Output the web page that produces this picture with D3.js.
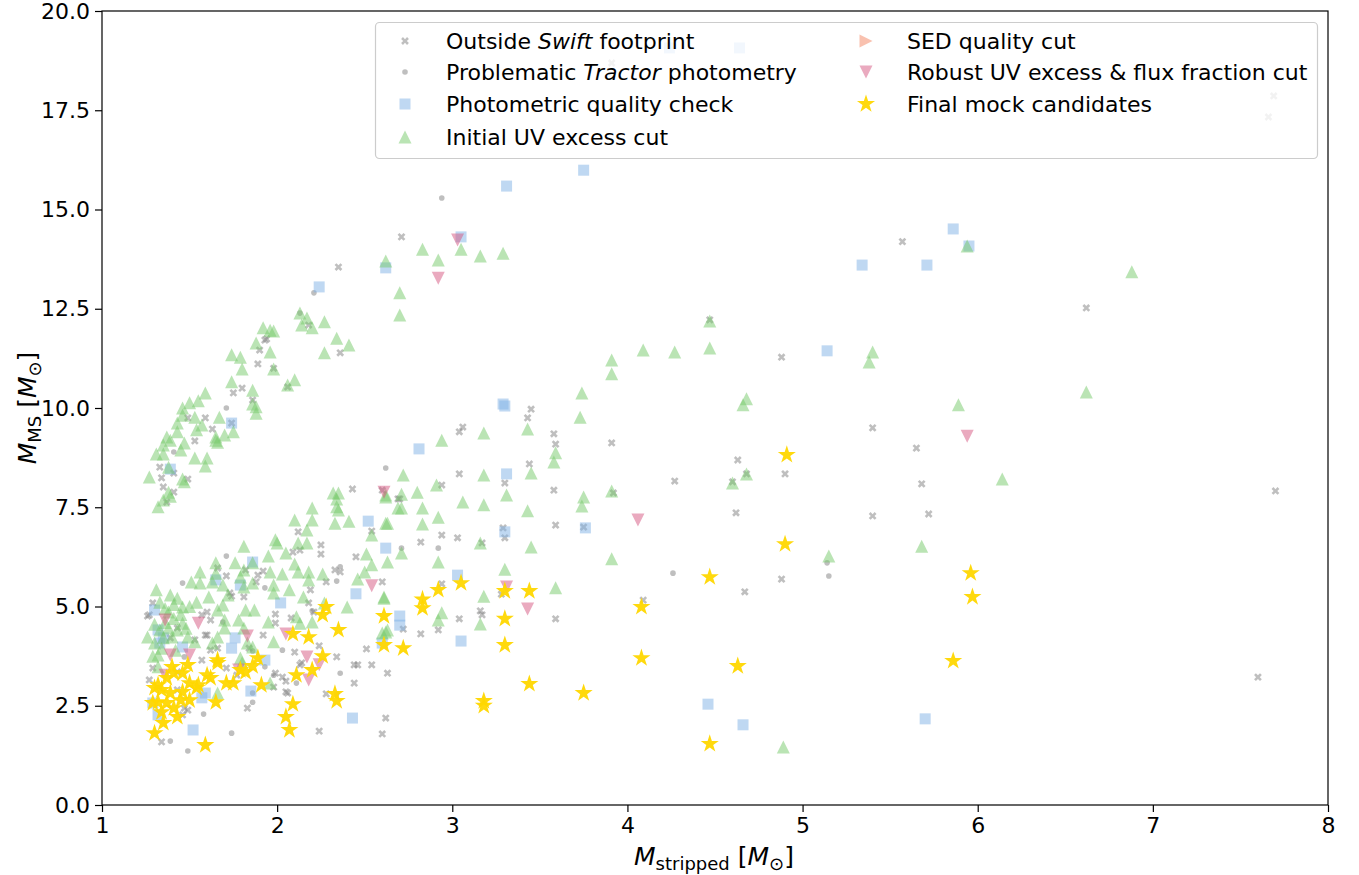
<!DOCTYPE html>
<html>
<head>
<meta charset="utf-8">
<script src="https://cdn.jsdelivr.net/npm/d3@7"></script>
<style>
  body { margin: 0; background: #fff; }
  text { font-family: "DejaVu Sans", sans-serif; }
</style>
</head>
<body>
<svg id="chart" width="1359" height="875"></svg>
<script>
// Stripped-star + main-sequence mock binaries, by selection stage: [M_stripped, M_MS] in solar masses
const outsideSwift = [
  [3.91,18.69],[7.69,17.86],[7.66,17.33],[5.57,14.19],[6.62,12.52],[5.40,9.50],[5.65,8.99],[5.68,8.09],[5.72,7.33],[5.40,7.28],[7.70,7.91],[7.60,3.22],
  [2.71,14.31],[2.35,13.55],[1.93,11.71],[2.36,11.39],[1.98,11.00],[2.06,10.53],[2.18,12.09],[3.45,9.97],[3.43,9.75],
  [1.94,11.74],[1.90,11.46],[1.89,11.11],[1.80,10.50],[1.75,10.38],[1.86,10.20],[1.59,9.75],[1.49,9.75],[1.63,9.47],[1.53,9.17],[1.74,9.62],
  [1.33,8.51],[1.41,8.36],[1.34,8.24],[1.35,8.01],[1.41,7.88],[1.37,7.63],[1.49,8.21],
  [2.43,7.96],[2.60,7.93],[2.69,7.71],[2.12,6.88],[2.54,6.90],
  [4.47,12.22],[4.88,11.28],[3.91,9.12],[4.63,8.69],[4.90,8.34],[4.27,8.16],[4.62,7.36],[4.88,5.69],[4.67,5.37],[4.09,5.16],[3.75,7.00],[3.92,7.86],[4.60,8.14],[4.68,8.34],
  [3.06,9.52],[3.04,9.40],[3.58,9.35],[3.59,9.09],[3.44,8.59],[3.04,8.34],[2.94,8.06],[3.30,8.11],[3.58,7.93],[2.70,7.71],[3.59,7.05],[2.94,6.80],[3.03,6.73],[3.29,6.98],[3.30,6.73],[2.82,6.62],[3.17,6.60],[2.60,5.62],[2.94,5.57],[3.28,5.31],[3.16,4.89],[3.17,4.79],[3.04,4.69],[3.59,4.69],[2.92,4.41],[2.72,4.43],[2.82,4.31],[2.63,3.32],
  [2.24,4.01],[2.10,3.85],[2.51,3.93],[2.34,3.73],[2.44,3.53],[2.54,3.53],[2.44,3.07],[2.05,3.12],[2.06,2.82],[2.28,2.80],[2.62,2.19],[2.60,1.79],[2.24,1.86],[2.14,3.58],
  [2.25,6.55],[2.25,6.32],[2.09,6.37],[2.13,6.42],[2.45,6.25],[2.33,5.92],[2.36,5.87],[2.28,5.62],[2.19,5.42],[1.92,5.89],[1.89,5.79],[1.88,5.62],[1.81,5.24],[1.73,5.34],[2.18,5.09],[2.21,4.86],[1.99,4.81],[2.08,4.71],[1.99,4.58],[1.92,4.28],[1.59,4.28],[1.62,3.90],[1.43,4.46],[1.26,4.76],[1.29,5.09],[1.60,4.86],[2.46,3.53],[2.13,3.53],[2.03,3.22],[1.99,3.32],[1.98,2.97],[2.05,2.85],[1.83,2.44],[1.34,1.59],[1.47,2.44],[1.43,2.90],[1.43,3.35],[1.29,3.45],[1.27,3.15],
  [1.71,5.77],[1.66,5.97],[1.82,5.92],[1.74,5.26],[1.57,4.79],[1.62,4.66],[1.60,4.28],[1.53,4.16],[1.66,3.95],[1.57,3.65],[1.39,4.21],[1.27,4.79],[1.84,3.95],[1.71,3.45],[1.77,3.27],[1.46,2.27],[1.49,2.39]
];

const tractorProblem = [
  [2.94,15.29],[2.21,12.90],[2.13,12.39],[1.71,10.00],[1.41,8.89],[2.62,8.49],[2.71,6.47],[2.92,6.47],[4.26,5.84],[5.14,6.10],[5.15,5.77],
  [1.71,6.27],[1.93,5.47],[2.34,5.64],[2.36,6.00],[2.03,3.90],[1.86,3.88],[1.93,3.48],[1.98,3.27],[1.86,2.82],[1.58,2.29],[1.74,1.81],[1.49,1.36],[1.39,1.61],[1.46,5.59],[2.34,2.80],[2.36,3.32],[2.11,3.07],[1.69,4.61],[1.47,3.73],[2.20,4.89],[1.86,2.59]
];

const photometricCheck = [
  [4.24,19.07],[4.64,19.07],[3.75,15.99],[3.31,15.59],[2.24,13.05],[2.62,13.53],[3.05,14.31],[5.86,14.51],[5.34,13.60],[5.71,13.60],[5.95,14.08],[5.14,11.44],[3.29,10.10],[3.30,10.05],[1.74,9.62],[1.39,8.46],[2.81,8.97],[2.52,7.15],[3.31,8.34],[3.76,6.98],[2.62,6.47],[3.30,6.88],[3.03,5.79],[4.46,2.54],[4.66,2.02],[5.70,2.17],[2.43,2.19],[3.05,4.13],[2.02,5.09],[2.45,5.32],[1.86,6.12],[1.79,5.54],[1.76,4.21],[1.74,3.95],[1.93,3.65],[1.85,2.87],[1.52,1.89],[2.60,4.08],[1.29,2.57],[1.32,2.27],[1.59,2.82],[1.57,2.70],[1.35,4.21],[1.33,4.08],[1.30,4.91],[1.32,4.41],[1.46,3.98],[1.65,5.67],[2.70,4.76],[2.70,4.53]
];

const initialUVCut = [
  [2.13,12.39],[2.17,12.27],[2.14,12.09],[2.20,12.02],[2.27,12.17],[1.92,12.02],[1.96,11.96],[1.98,11.94],[2.34,11.76],[2.41,11.59],[2.27,11.39],[1.88,11.64],[1.96,11.41],[1.74,11.34],[1.79,11.28],[1.80,10.98],[1.98,10.98],[2.10,10.71],[2.06,10.58],[1.74,10.66],[1.86,10.45],[1.59,10.38],[1.55,10.18],[1.50,10.13],[1.86,10.10],[1.88,10.03],[1.88,9.87],[1.46,10.00],[1.46,9.82],[1.53,9.77],[1.67,9.77],[1.43,9.62],[1.75,9.40],[1.70,9.32],[1.65,9.27],[1.66,9.14],[1.54,9.45],[1.57,9.57],[1.37,9.27],[1.43,9.40],[1.39,9.19],[1.47,9.12],[1.45,8.94],[1.35,9.07],[1.31,8.84],[1.35,8.84],[1.53,8.74],[1.60,8.74],[1.59,8.54],[1.46,8.21],[1.47,8.14],[1.27,8.26],[1.38,7.88],[1.39,7.78],[1.32,7.51],[1.35,7.68],[1.38,8.51],[1.65,9.19],
  [2.62,13.70],[2.83,14.00],[2.92,13.73],[3.05,14.00],[3.16,13.83],[3.29,13.90],[2.70,12.90],[2.70,12.34],
  [3.91,11.21],[3.91,10.86],[4.09,11.46],[4.27,11.41],[3.74,10.38],[3.73,9.77],[4.47,12.19],[4.47,11.51],[5.40,11.41],[5.38,11.16],[4.68,10.23],[4.66,10.08],[4.68,8.34],[4.60,8.11],[3.91,7.91],[3.75,7.76],[3.74,7.53],[3.91,6.20],[5.15,6.27],[5.68,6.52],[4.89,1.46],
  [5.94,14.08],[6.88,13.43],[6.62,10.40],[5.89,10.08],[6.14,8.21],
  [2.32,7.86],[2.35,7.86],[2.34,7.71],[2.20,7.48],[2.34,7.51],[2.35,7.43],[2.10,7.18],[2.20,7.18],[2.33,7.10],[2.41,7.15],[2.62,7.10],[2.69,7.48],[2.54,6.80],[2.62,7.81],[2.17,6.93],[1.99,6.68],
  [3.43,9.47],[3.18,9.37],[2.94,9.19],[3.59,8.87],[3.58,8.64],[3.45,8.36],[2.72,8.31],[3.18,8.31],[2.91,8.06],[3.31,7.81],[2.80,7.88],[2.71,7.83],[2.62,7.76],[3.06,7.63],[3.18,7.56],[2.71,7.48],[2.83,7.48],[2.92,7.25],[2.63,7.10],[2.83,7.08],[3.43,7.41],[3.45,6.50],[3.16,6.60],[2.71,6.35],[2.63,6.12],[2.92,6.12],[3.30,5.94],[3.59,5.47],[2.61,5.24],[3.18,5.26],[2.94,4.84],[2.92,4.66],[3.16,4.56],[2.62,4.36],
  [1.81,6.52],[2.00,6.60],[2.05,6.35],[2.12,6.60],[2.17,6.60],[1.95,6.27],[1.86,6.10],[1.76,6.10],[1.65,6.10],[1.56,5.87],[2.10,6.07],[2.12,5.87],[2.03,5.82],[2.18,5.87],[2.26,5.82],[2.18,5.67],[1.96,5.87],[1.81,5.92],[1.86,5.59],[1.79,5.74],[1.65,5.84],[1.51,5.62],[1.56,5.59],[1.63,5.62],[1.69,5.54],[1.81,5.49],[1.98,5.54],[2.15,5.24],[2.07,5.42],[1.98,5.34],[2.46,5.69],[2.50,5.87],[2.54,6.05],[2.51,6.32],[2.61,5.21],[2.60,4.33],[2.63,4.41],[2.40,4.99],[2.27,5.09],[2.20,4.61],[2.11,4.74],[2.13,4.58],[1.95,4.61],[1.87,4.91],[1.82,4.91],[1.78,4.66],[1.81,4.46],[1.70,4.66],[1.70,4.46],[1.66,4.23],[1.66,4.91],[1.69,5.04],[1.72,5.29],[1.61,5.24],[1.54,5.11],[1.46,4.99],[1.43,5.21],[1.39,5.29],[1.33,5.11],[1.38,4.86],[1.46,4.58],[1.43,4.41],[1.38,4.46],[1.33,4.41],[1.26,4.23],[1.30,4.08],[1.49,4.23],[1.53,4.11],[1.40,4.23],[1.35,4.21],[1.63,4.08],[1.83,4.08],[1.98,4.11],[1.86,3.98],[1.79,3.70],[1.80,3.58],[1.32,3.48],[1.32,3.78],[1.66,2.82],[1.96,3.07],[1.31,5.42],
  [1.36,4.95],[1.41,5.05],[1.45,4.80],[1.50,5.00],[1.41,4.70],[1.36,4.60],[1.48,4.45],[1.30,4.55],[1.34,3.95],[1.29,3.75],[1.42,3.90]
];

const sedQualityCut = [];

const robustUVCut = [
  [3.03,14.23],[2.92,13.27],[5.94,9.29],[4.06,7.18],[2.61,7.88],[2.54,5.52],[3.31,5.49],[3.43,4.94],
  [1.36,4.66],[1.55,4.58],[1.39,3.78],[1.50,3.78],[1.83,4.26],[2.05,4.31],[2.17,3.73],[2.18,3.15],[2.24,3.53],[1.36,3.27],[1.78,3.40]
];

const finalCandidates = [
  [4.91,8.82],[4.90,6.57],[4.47,5.74],[5.96,5.84],[5.97,5.24],[5.86,3.63],[4.63,3.50],[4.47,1.54],
  [4.08,4.99],[4.08,3.70],[3.75,2.82],[3.44,3.05],[3.44,5.39],[3.30,5.39],[3.30,4.69],[3.30,4.03],
  [3.18,2.62],[3.18,2.50],[3.05,5.59],[2.92,5.42],[2.83,5.18],[2.83,4.96],[2.72,3.95],[2.61,4.76],[2.61,4.03],
  [2.28,4.99],[2.26,4.79],[2.35,4.41],[2.09,4.31],[2.18,4.23],[2.26,3.75],[2.20,3.40],[2.11,3.27],
  [2.33,2.80],[2.34,2.62],[2.09,2.54],[2.05,2.22],[2.07,1.89],
  [1.89,3.70],[1.86,3.50],[1.91,3.02],[1.82,3.35],[1.79,3.40],[1.75,3.07],[1.71,3.07],[1.66,3.58],[1.66,3.65],
  [1.62,3.20],[1.60,3.27],[1.65,2.59],[1.55,3.02],[1.54,2.95],[1.50,3.07],[1.49,3.53],[1.46,3.32],[1.41,3.32],[1.40,3.48],
  [1.37,3.20],[1.32,3.02],[1.34,2.90],[1.30,2.95],[1.39,2.82],[1.46,2.85],[1.45,2.64],[1.50,2.64],[1.37,2.57],[1.32,2.59],[1.29,2.57],
  [1.34,2.34],[1.41,2.44],[1.43,2.22],[1.35,2.07],[1.30,1.81],[1.59,1.51]
];

const xTicks = [1, 2, 3, 4, 5, 6, 7, 8];
const yTicks = [0, 2.5, 5, 7.5, 10, 12.5, 15, 17.5, 20];

// ---- marker shapes (centred on 0,0) ----
function xMarkerPath(a, w) {
  const p = [[w,a],[w,w],[a,w],[a,-w],[w,-w],[w,-a],[-w,-a],[-w,-w],[-a,-w],[-a,w],[-w,w],[-w,a]];
  const c = Math.SQRT1_2;
  return "M" + p.map(([u,v]) => [(u - v) * c, (u + v) * c].map(n => n.toFixed(2)).join(",")).join("L") + "Z";
}
function trianglePath(h, dir) {
  const pts = { up: [[0,-h],[h,h],[-h,h]], down: [[0,h],[h,-h],[-h,-h]], right: [[h,0],[-h,h],[-h,-h]] }[dir];
  return "M" + pts.map(p => p.join(",")).join("L") + "Z";
}
function starPath(R) {
  const r = R * 0.381966, pts = [];
  for (let i = 0; i < 10; i++) {
    const ang = -Math.PI / 2 + i * Math.PI / 5, rad = i % 2 ? r : R;
    pts.push([(rad * Math.cos(ang)).toFixed(2), (rad * Math.sin(ang)).toFixed(2)]);
  }
  return "M" + pts.map(p => p.join(",")).join("L") + "Z";
}
function squarePath(s) { const h = s / 2; return `M${-h},${-h}H${h}V${h}H${-h}Z`; }
function dotPath(r) { return `M${r},0A${r},${r} 0 1,1 ${-r},0A${r},${r} 0 1,1 ${r},0Z`; }

const series = [
  { data: outsideSwift,     path: xMarkerPath(4.2, 1.3),     fill: "#808080", op: 0.5,  label: ["Outside ", {i:"Swift"}, " footprint"] },
  { data: tractorProblem,   path: dotPath(2.8),              fill: "#808080", op: 0.5,  label: ["Problematic ", {i:"Tractor"}, " photometry"] },
  { data: photometricCheck, path: squarePath(11),            fill: "#7fb2e5", op: 0.5,  label: ["Photometric quality check"] },
  { data: initialUVCut,     path: trianglePath(6.5, "up"),   fill: "#76c96a", op: 0.5,  label: ["Initial UV excess cut"] },
  { data: sedQualityCut,    path: trianglePath(6.5, "right"),fill: "#f4845f", op: 0.5,  label: ["SED quality cut"] },
  { data: robustUVCut,      path: trianglePath(6.5, "down"), fill: "#d6567f", op: 0.5,  label: ["Robust UV excess & flux fraction cut"] },
  { data: finalCandidates,  path: starPath(9.5),             fill: "#FFD700", op: 0.95, label: ["Final mock candidates"] }
];

// ---- layout ----
const svg = d3.select("#chart");
const plotL = 102, plotR = 1328, plotT = 11, plotB = 805;
const x = d3.scaleLinear().domain([1, 8]).range([plotL, plotR]);
const y = d3.scaleLinear().domain([0, 20]).range([plotB, plotT]);

svg.append("rect").attr("width", 1359).attr("height", 875).attr("fill", "#fff");

svg.append("clipPath").attr("id", "plotClip")
  .append("rect").attr("x", plotL).attr("y", plotT).attr("width", plotR - plotL).attr("height", plotB - plotT);

const plot = svg.append("g").attr("clip-path", "url(#plotClip)");
series.forEach(s => {
  plot.append("g").selectAll("path").data(s.data).join("path")
    .attr("d", s.path)
    .attr("transform", d => `translate(${x(d[0])},${y(d[1])})`)
    .attr("fill", s.fill)
    .attr("fill-opacity", s.op);
});

// ---- axes ----
const xAxis = svg.append("g").attr("transform", `translate(0,${plotB})`)
  .call(d3.axisBottom(x).tickValues(xTicks).tickFormat(d3.format("d")).tickSize(7).tickPadding(5));
const yAxis = svg.append("g").attr("transform", `translate(${plotL},0)`)
  .call(d3.axisLeft(y).tickValues(yTicks).tickFormat(d3.format(".1f")).tickSize(7).tickPadding(5));
[xAxis, yAxis].forEach(g => {
  g.select(".domain").remove();
  g.selectAll(".tick line").attr("stroke", "#000").attr("stroke-width", 1.2);
  g.selectAll(".tick text").attr("fill", "#000").style("font-size", "22px").style("font-family", "DejaVu Sans, sans-serif");
});
svg.append("rect").attr("x", plotL).attr("y", plotT).attr("width", plotR - plotL).attr("height", plotB - plotT)
  .attr("fill", "none").attr("stroke", "#000").attr("stroke-width", 1.2);

// ---- axis labels ----
function mathLabel(sel, sub) {
  sel.append("tspan").attr("font-style", "italic").text("M");
  sel.append("tspan").attr("font-size", "18px").attr("dy", 5).text(sub);
  sel.append("tspan").attr("dy", -5).text(" [");
  sel.append("tspan").attr("font-style", "italic").text("M");
  sel.append("tspan").attr("font-size", "18px").attr("dy", 5).text("\u2299");
  sel.append("tspan").attr("dy", -5).text("]");
}
svg.append("text").attr("x", 714).attr("y", 865).attr("text-anchor", "middle")
  .style("font-size", "25px").call(mathLabel, "stripped");
svg.append("text").attr("transform", `translate(36,${(plotT + plotB) / 2}) rotate(-90)`).attr("text-anchor", "middle")
  .style("font-size", "25px").call(mathLabel, "MS");

// ---- legend ----
const lg = svg.append("g");
lg.append("rect").attr("x", 375.5).attr("y", 22.5).attr("width", 942).attr("height", 136).attr("rx", 4)
  .attr("fill", "#fff").attr("fill-opacity", 0.8).attr("stroke", "#cccccc").attr("stroke-width", 1.2);
const colX = [405, 866], rowY = [41, 72, 104, 137];
series.forEach((s, i) => {
  const col = i < 4 ? 0 : 1, row = i < 4 ? i : i - 4;
  const cx = colX[col], cy = rowY[row];
  lg.append("path").attr("d", s.path).attr("transform", `translate(${cx},${cy})`)
    .attr("fill", s.fill).attr("fill-opacity", s.op);
  const t = lg.append("text").attr("x", cx + 41).attr("y", cy + 8).style("font-size", "22px").attr("fill", "#000");
  s.label.forEach(part => {
    if (typeof part === "string") t.append("tspan").text(part);
    else t.append("tspan").attr("font-style", "italic").text(part.i);
  });
});
</script>
</body>
</html>
